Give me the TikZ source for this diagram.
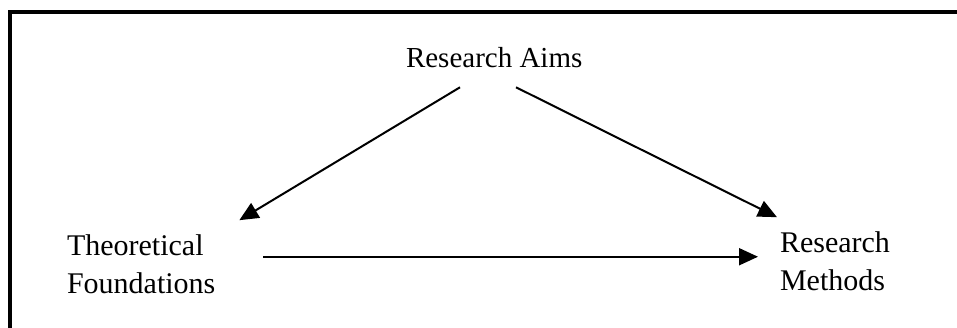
\documentclass[tikz,border=0pt]{standalone}
\usepackage{fontspec}
\setmainfont{Liberation Serif}
\usetikzlibrary{arrows.meta,calc}
\begin{document}
\begin{tikzpicture}[x=1pt,y=-1pt,
  lbl/.style={inner sep=0pt,outer sep=0pt,align=left,anchor=base west,
    font=\fontsize{30}{38}\selectfont},
  arr/.style={line width=2pt,-{Triangle[length=19pt,width=17pt]}},
  frame/.style={line width=3.5pt}]
\useasboundingbox (0,0) rectangle (957,327);
\draw[frame] (10,340) -- (10,12) -- (970,12);
\node[lbl,font=\fontsize{29}{34}\selectfont] (aims) at (406,67) {Research Aims};
\node[lbl] (theo) at (67,293) {Theoretical\\Foundations};
\node[lbl] (meth) at (780,290) {Research\\Methods};
\draw[arr] ($(aims.south west)+(54,20)$) -- ($(theo.north east)+(24,-14)$);
\draw[arr] ($(aims.south west)+(110,20)$) -- ($(meth.north west)+(-3,-14)$);
\draw[arr] ($(theo.east)+(48,-7)$) -- ($(meth.west)+(-22,-4)$);
\end{tikzpicture}
\end{document}
